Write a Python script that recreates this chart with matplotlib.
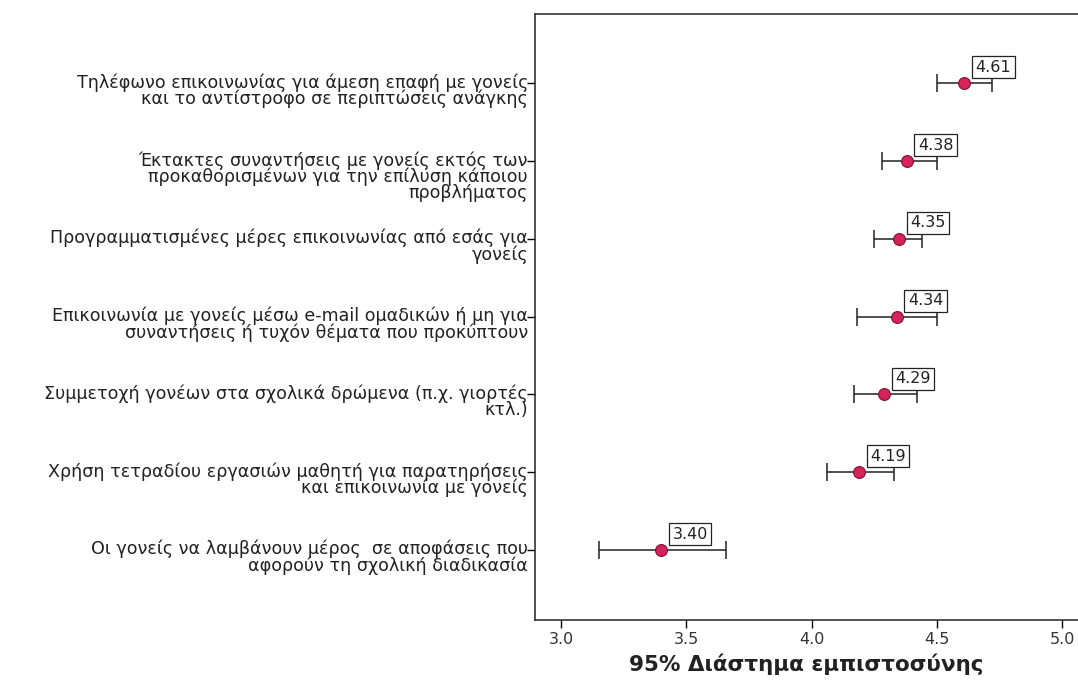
import numpy as np
import matplotlib
matplotlib.use("Agg")
import matplotlib.pyplot as plt
import matplotlib.transforms as mtransforms

plt.rcParams['font.family'] = ['DejaVu Sans']

labels = [
    "Τηλέφωνο επικοινωνίας για άμεση επαφή με γονείς\nκαι το αντίστροφο σε περιπτώσεις ανάγκης",
    "Έκτακτες συναντήσεις με γονείς εκτός των\nπροκαθορισμένων για την επίλυση κάποιου\nπροβλήματος",
    "Προγραμματισμένες μέρες επικοινωνίας από εσάς για\nγονείς",
    "Επικοινωνία με γονείς μέσω e-mail ομαδικών ή μη για\nσυναντήσεις ή τυχόν θέματα που προκύπτουν",
    "Συμμετοχή γονέων στα σχολικά δρώμενα (π.χ. γιορτές\nκτλ.)",
    "Χρήση τετραδίου εργασιών μαθητή για παρατηρήσεις\nκαι επικοινωνία με γονείς",
    "Οι γονείς να λαμβάνουν μέρος  σε αποφάσεις που\nαφορούν τη σχολική διαδικασία",
]
means = [4.61, 4.38, 4.35, 4.34, 4.29, 4.19, 3.40]
lower = [4.50, 4.28, 4.25, 4.18, 4.17, 4.06, 3.15]
upper = [4.72, 4.50, 4.44, 4.50, 4.42, 4.33, 3.66]
xticks = [3.0, 3.5, 4.0, 4.5, 5.0]

means = np.array(means)
err = np.array([means - np.array(lower), np.array(upper) - means])
ypos = np.arange(1, len(means) + 1)

fig = plt.figure(figsize=(10.78, 6.82), dpi=100)
ax = fig.add_axes([535 / 1078, 1 - 620 / 682, 1 - 535 / 1078, (620 - 14) / 682])

ax.errorbar(means, ypos, xerr=err, fmt='none', ecolor='#222222', elinewidth=1.1,
            capsize=6.5, capthick=1.1, zorder=2)
ax.plot(means, ypos, 'o', markersize=8.5, markerfacecolor='#d6245a',
        markeredgecolor='#7a1030', markeredgewidth=0.8, zorder=3)

for m, y in zip(means, ypos):
    ax.annotate(f"{m:.2f}", (m, y), xytext=(8, 6), textcoords='offset points',
                ha='left', va='bottom', fontsize=11.5, color='#222222',
                bbox=dict(boxstyle='square,pad=0.22', fc='white', ec='#222222', lw=0.9),
                zorder=4)

ax.set_xlim(2.896, 5.064)
ax.set_ylim(7.9, 0.11)
ax.set_xticks(xticks)
ax.set_xticklabels([f"{t:.1f}" for t in xticks], fontsize=11.5, color='#333333')
ax.set_yticks(ypos)
ax.set_yticklabels([])
ax.tick_params(axis='x', direction='out', length=6, width=1, pad=3)
ax.tick_params(axis='y', direction='out', length=6, width=1)

# category labels: first line sits on the tick, right aligned
lab_tr = mtransforms.blended_transform_factory(ax.transAxes, ax.transData) + \
    mtransforms.ScaledTranslation(-7 / 100, 10 / 100, fig.dpi_scale_trans)
for lab, y in zip(labels, ypos):
    ax.text(0, y, lab, transform=lab_tr, ha='right', va='top', fontsize=12.6,
            linespacing=0.86, color='#222222', clip_on=False)

for side in ['left', 'top', 'bottom']:
    ax.spines[side].set_linewidth(1.2)
    ax.spines[side].set_color('#333333')
ax.spines['right'].set_visible(False)

ax.set_xlabel("95% Διάστημα εμπιστοσύνης", fontsize=15.5, fontweight='bold',
              color='#222222', labelpad=4)

fig.savefig("out.png", dpi=100, facecolor='white')
